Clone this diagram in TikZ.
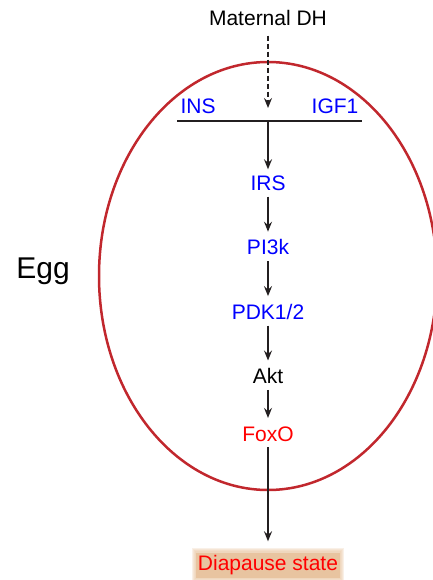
\documentclass[tikz,border=0pt]{standalone}
\usepackage{fontspec}
\setmainfont{Liberation Sans}
\usepackage{xcolor}
\usetikzlibrary{arrows.meta, positioning, backgrounds}

\definecolor{eggred}{RGB}{193,39,45}
\definecolor{tipblack}{RGB}{35,31,32}
\definecolor{sigblue}{RGB}{0,0,255}
\definecolor{sigred}{RGB}{255,0,0}
\definecolor{tan}{RGB}{232,196,160}

\begin{document}
\begin{tikzpicture}[
    x=1bp, y=-1bp,
    node distance=45bp,
    mol/.style={text=#1, font=\fontsize{21bp}{25bp}\selectfont, text height=15bp, text depth=4bp, inner sep=0pt},
    act/.style={-{Stealth[length=10bp, width=8bp, inset=3.5bp]}, line width=1.6bp, color=tipblack, shorten <=2bp, shorten >=8bp},
    maternal/.style={act, dashed, dash pattern=on 5bp off 3bp},
]
\useasboundingbox (0,0) rectangle (432,580);

% Egg
\draw[eggred, line width=2.5bp] (268,276) ellipse [x radius=169, y radius=214];
\node[mol=black, font=\fontsize{30bp}{36bp}\selectfont, text height=22bp, text depth=6bp] (egg) at (43,270) {Egg};

% Receptors
\node[mol=black] (dh) at (268,20) {Maternal DH};
\coordinate (barl) at (177,121);
\coordinate (barr) at (362,121);
\coordinate (bar) at (268,121);
\node[mol=sigblue] (ins) at (198,108) {INS};
\node[mol=sigblue] (igf) at (335,108) {IGF1};

% Pathway
\node[mol=sigblue] (irs) at (268,185) {IRS};
\node[mol=sigblue, below=of irs] (pi3k) {PI3k};
\node[mol=sigblue, below=of pi3k] (pdk) {PDK1/2};
\node[mol=black, below=of pdk] (akt) {Akt};
\node[mol=sigred, below=38bp of akt] (foxo) {FoxO};
\node[mol=sigred, fill=tan, inner xsep=2bp, inner ysep=3bp] (diapause) at (268,565) {Diapause state};
\begin{scope}[on background layer]
  \foreach \g in {1,...,4}
    \fill[tan, opacity=0.25] ([xshift=-\g bp, yshift=-\g bp]diapause.south west) rectangle ([xshift=\g bp, yshift=\g bp]diapause.north east);
\end{scope}

% Arrows
\draw[line width=1.6bp, tipblack] (barl) -- (barr);
\draw[maternal, shorten <=6bp, shorten >=13bp] (dh) -- (bar);
\draw[act, shorten <=0pt, shorten >=6bp] (bar) -- (irs);
\draw[act] (irs) -- (pi3k);
\draw[act] (pi3k) -- (pdk);
\draw[act] (pdk) -- (akt);
\draw[act] (akt) -- (foxo);
\draw[act, shorten >=11bp] (foxo) -- (diapause);

\end{tikzpicture}
\end{document}
